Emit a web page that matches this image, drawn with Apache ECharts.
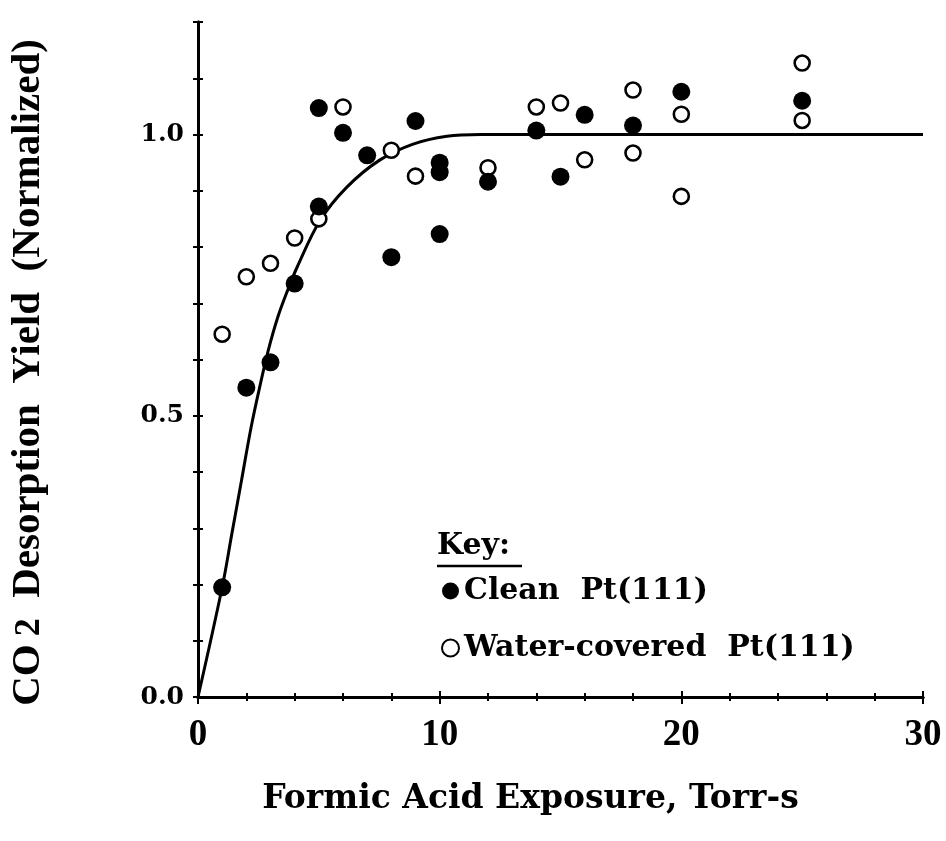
<!DOCTYPE html>
<html>
<head>
<meta charset="utf-8">
<script src="https://cdn.jsdelivr.net/npm/echarts@6/dist/echarts.min.js"></script>
<style>html,body{margin:0;padding:0;background:#fff;}#c{width:946px;height:841px;}</style>
</head>
<body>
<div id="c"></div>
<script>
// Clean Pt(111) points
var cleanX = [1, 2, 3, 4, 5, 5, 6, 7, 8, 9, 10, 10, 10, 12, 14, 15, 16, 18, 20, 25];
var cleanY = [0.195, 0.55, 0.595, 0.735, 0.872, 1.047, 1.003, 0.963, 0.782, 1.024, 0.950, 0.933, 0.823, 0.916, 1.007, 0.925, 1.035, 1.016, 1.076, 1.060];
// Water-covered Pt(111) points
var waterX = [1, 2, 3, 4, 5, 6, 8, 9, 12, 14, 15, 16, 18, 18, 20, 20, 25, 25];
var waterY = [0.645, 0.747, 0.771, 0.816, 0.850, 1.049, 0.972, 0.926, 0.941, 1.049, 1.056, 0.955, 1.079, 0.967, 1.036, 0.890, 1.127, 1.025];
// fitted curve
var curveX = [0, 1, 1.4, 1.8, 2.2, 2.6, 2.9, 3.3, 3.7, 4.1, 5.05, 6.15, 7.5, 8.9, 10.3, 11.7, 13, 30];
var curveY = [0, 0.195, 0.29, 0.385, 0.48, 0.56, 0.615, 0.675, 0.722, 0.764, 0.847, 0.906, 0.954, 0.983, 0.997, 1.0, 1.0, 1.0];

var seriesNames = ['Clean  Pt(111)', 'Water-covered  Pt(111)'];
var xTitle = 'Formic Acid Exposure, Torr-s';

function zip(a, b) { return a.map(function (v, i) { return [v, b[i]]; }); }

var chart = echarts.init(document.getElementById('c'));
var axisLine = { show: true, lineStyle: { color: '#000', width: 3 } };
var yFmt = function (v) {
  var t = v * 2;
  return Math.abs(t - Math.round(t)) < 1e-6 ? v.toFixed(1) : '';
};
chart.setOption({
  animation: false,
  backgroundColor: '#fff',
  grid: { left: 198, right: 23, top: 22, bottom: 144, containLabel: false, outerBoundsMode: 'none' },
  xAxis: [{
    type: 'value', min: 0, max: 30, interval: 10, position: 'bottom',
    axisLine: axisLine,
    axisTick: { show: true, inside: false, length: 7, lineStyle: { color: '#000', width: 2 } },
    minorTick: { show: true, splitNumber: 5, length: 4, lineStyle: { color: '#000', width: 2 } },
    splitLine: { show: false },
    axisLabel: { margin: 20, color: '#000', fontFamily: 'Liberation Serif', fontWeight: 'bold', fontSize: 37 },
    name: xTitle, nameLocation: 'middle', nameGap: 86,
    nameTextStyle: { color: '#000', fontFamily: 'DejaVu Serif', fontWeight: 'bold', fontSize: 33, padding: [0, 60, 0, 0] }
  }, {
    type: 'value', min: 0, max: 30, interval: 10, position: 'top',
    axisLine: axisLine,
    axisTick: { show: true, inside: false, length: 6, lineStyle: { color: '#000', width: 2 } },
    minorTick: { show: true, splitNumber: 5, length: 4, lineStyle: { color: '#000', width: 2 } },
    splitLine: { show: false }, axisLabel: { show: false }
  }],
  yAxis: [{
    type: 'value', min: 0, max: 1.2, interval: 0.1, position: 'left',
    axisLine: axisLine,
    axisTick: { show: true, inside: false, length: 5, lineStyle: { color: '#000', width: 2 } },
    splitLine: { show: false },
    axisLabel: { margin: 14, color: '#000', fontFamily: 'DejaVu Serif', fontWeight: 'bold', fontSize: 25, formatter: yFmt },
    name: '{b|CO}{s|2}{b|  Desorption  Yield  (Normalized)}',
    nameLocation: 'middle', nameRotate: 90, nameGap: 150,
    nameTextStyle: {
      color: '#000',
      padding: [0, 26, 0, 0],
      rich: {
        b: { fontFamily: 'Liberation Serif', fontWeight: 'bold', fontSize: 41, lineHeight: 40, color: '#000', verticalAlign: 'middle' },
        s: { fontFamily: 'Liberation Serif', fontWeight: 'bold', fontSize: 36, lineHeight: 40, color: '#000', padding: [30, 0, 0, 8], verticalAlign: 'bottom' }
      }
    }
  }, {
    type: 'value', min: 0, max: 1.2, interval: 0.1, position: 'right',
    axisLine: axisLine,
    axisTick: { show: true, inside: false, length: 5, lineStyle: { color: '#000', width: 2 } },
    splitLine: { show: false }, axisLabel: { show: false }
  }],
  legend: {
    orient: 'vertical', left: 436, top: 569, itemGap: 23,
    itemWidth: 17, itemHeight: 17,
    data: seriesNames,
    textStyle: { color: '#000', fontFamily: 'DejaVu Serif', fontWeight: 'bold', fontSize: 30, lineHeight: 34 }
  },
  graphic: [
    { type: 'text', left: 437, top: 531, style: { text: 'Key:', fill: '#000', font: 'bold 30px "DejaVu Serif"' } },
    { type: 'line', shape: { x1: 437, y1: 566, x2: 522, y2: 566 }, style: { stroke: '#000', lineWidth: 2.5 } }
  ],
  series: [{
    type: 'line', data: zip(curveX, curveY), showSymbol: false, symbol: 'none',
    smooth: 0.35,
    lineStyle: { color: '#000', width: 3 }, z: 2, silent: true
  }, {
    name: seriesNames[0], type: 'scatter', data: zip(cleanX, cleanY),
    symbol: 'circle', symbolSize: 18,
    itemStyle: { color: '#000', opacity: 1 }, z: 4
  }, {
    name: seriesNames[1], type: 'scatter', data: zip(waterX, waterY),
    symbol: 'circle', symbolSize: 15,
    itemStyle: { color: '#fff', borderColor: '#000', borderWidth: 2.6, opacity: 1 }, z: 3
  }]
});
</script>
</body>
</html>
